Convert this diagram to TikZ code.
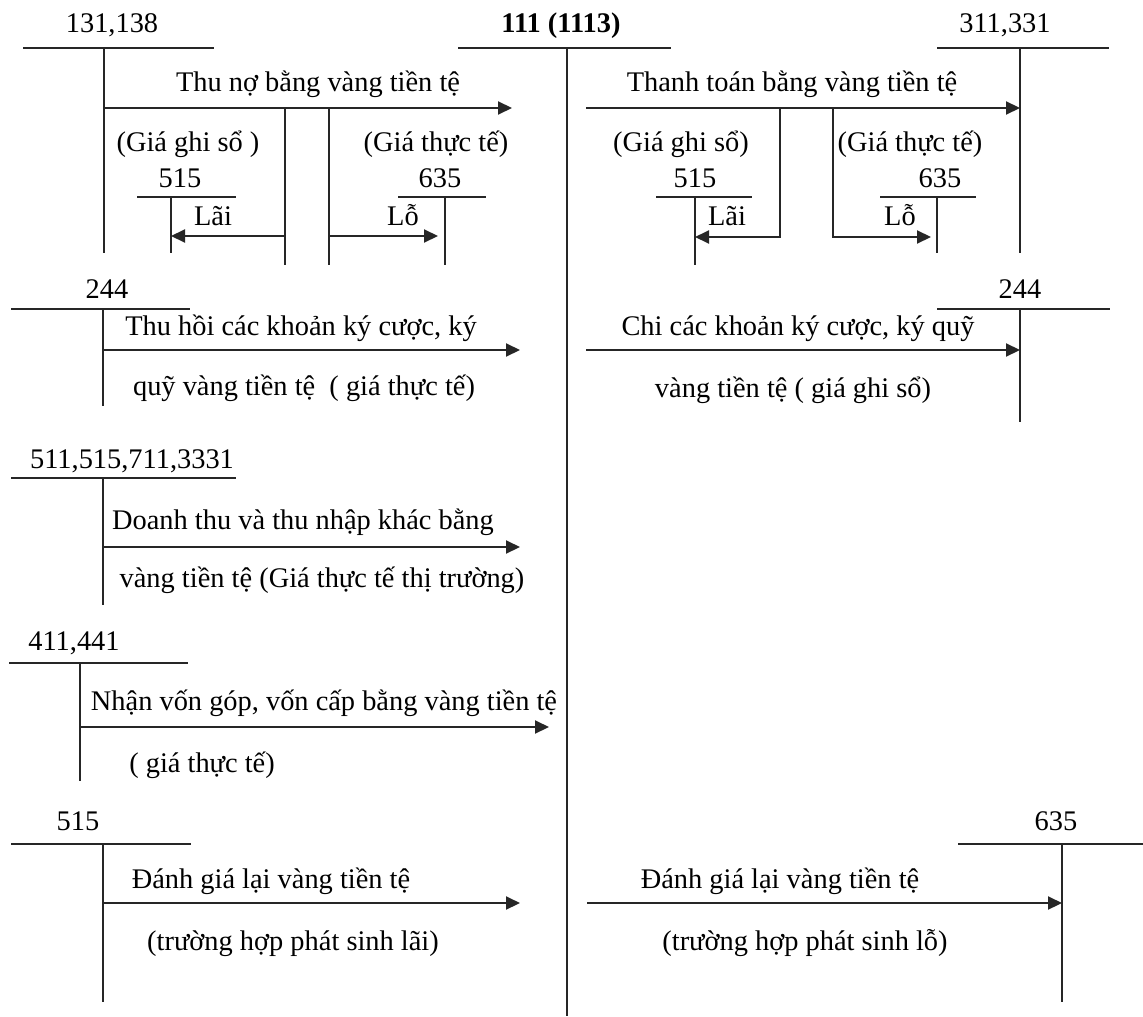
\documentclass[tikz,border=0pt]{standalone}
\usepackage{fontspec}
\setmainfont{Liberation Serif}
\usetikzlibrary{arrows.meta}
\begin{document}
\begin{tikzpicture}[x=0.5pt,y=-0.5pt,
  acct/.style={line width=1pt, draw=black!85},
  flow/.style={line width=1pt, draw=black!85, -{Triangle[length=7pt,width=6.5pt]}},
  lbl/.style={anchor=base, inner sep=0pt, font=\fontsize{14.2}{17}\selectfont}]
\fill[white] (0,0) rectangle (1143,1016);
\useasboundingbox (0,0) rectangle (1143,1016);

% ---- main account 111 ----
\node[lbl] (m) at (561,33) {\textbf{111 (1113)}};
\coordinate (mL) at (458,48); \coordinate (mR) at (671,48);
\coordinate (mT) at (567,48); \coordinate (mB) at (567,1016);
\draw[acct] (mL) -- (mR);
\draw[acct] (mT) -- (mB);

% ---- 131,138 ----
\node[lbl] (a1) at (112,33) {131,138};
\coordinate (a1L) at (23,48); \coordinate (a1R) at (214,48);
\coordinate (a1T) at (104,48); \coordinate (a1B) at (104,253);
\draw[acct] (a1L) -- (a1R);
\draw[acct] (a1T) -- (a1B);
\coordinate (f1s) at (104,108); \coordinate (f1e) at (512,108);
\draw[flow] (f1s) -- (f1e);
\node[lbl] (t1) at (318,92) {Thu nợ bằng vàng tiền tệ};
\coordinate (b1T) at (285,108); \coordinate (b1B) at (285,265);
\coordinate (b2T) at (329,108); \coordinate (b2B) at (329,265);
\draw[acct] (b1T) -- (b1B);
\draw[acct] (b2T) -- (b2B);
\node[lbl] (t1a) at (188,152) {(Giá ghi sổ )};
\node[lbl] (t1b) at (436,152) {(Giá thực tế)};
% 515 small
\node[lbl] (s1) at (180,188) {515};
\coordinate (s1L) at (137,197); \coordinate (s1R) at (236,197);
\coordinate (s1T) at (171,197); \coordinate (s1B) at (171,253);
\draw[acct] (s1L) -- (s1R);
\draw[acct] (s1T) -- (s1B);
\node[lbl] (l1) at (213,225) {Lãi};
\coordinate (g1s) at (285,236); \coordinate (g1e) at (171,236);
\draw[flow] (g1s) -- (g1e);
% 635 small
\node[lbl] (s2) at (440,188) {635};
\coordinate (s2L) at (398,197); \coordinate (s2R) at (486,197);
\coordinate (s2T) at (445,197); \coordinate (s2B) at (445,265);
\draw[acct] (s2L) -- (s2R);
\draw[acct] (s2T) -- (s2B);
\node[lbl] (l2) at (403,225) {Lỗ};
\coordinate (g2s) at (329,236); \coordinate (g2e) at (438,236);
\draw[flow] (g2s) -- (g2e);

% ---- 311,331 ----
\node[lbl] (a2) at (1005,33) {311,331};
\coordinate (a2L) at (937,48); \coordinate (a2R) at (1109,48);
\coordinate (a2T) at (1020,48); \coordinate (a2B) at (1020,253);
\draw[acct] (a2L) -- (a2R);
\draw[acct] (a2T) -- (a2B);
\coordinate (f2s) at (586,108); \coordinate (f2e) at (1020,108);
\draw[flow] (f2s) -- (f2e);
\node[lbl] (t2) at (792,92) {Thanh toán bằng vàng tiền tệ};
\node[lbl] (t2a) at (681,152) {(Giá ghi sổ)};
\node[lbl] (t2b) at (910,152) {(Giá thực tế)};
% 515 small right
\node[lbl] (s3) at (695,188) {515};
\coordinate (s3L) at (656,197); \coordinate (s3R) at (752,197);
\coordinate (s3T) at (695,197); \coordinate (s3B) at (695,265);
\draw[acct] (s3L) -- (s3R);
\draw[acct] (s3T) -- (s3B);
\node[lbl] (l3) at (727,225) {Lãi};
\coordinate (g3s) at (780,108); \coordinate (g3e) at (695,237);
\draw[flow] (g3s) |- (g3e);
% 635 small right
\node[lbl] (s4) at (940,188) {635};
\coordinate (s4L) at (880,197); \coordinate (s4R) at (976,197);
\coordinate (s4T) at (937,197); \coordinate (s4B) at (937,253);
\draw[acct] (s4L) -- (s4R);
\draw[acct] (s4T) -- (s4B);
\node[lbl] (l4) at (900,225) {Lỗ};
\coordinate (g4s) at (833,108); \coordinate (g4e) at (931,237);
\draw[flow] (g4s) |- (g4e);

% ---- 244 left ----
\node[lbl] (a3) at (107,298) {244};
\coordinate (a3L) at (11,309); \coordinate (a3R) at (190,309);
\coordinate (a3T) at (103,309); \coordinate (a3B) at (103,406);
\draw[acct] (a3L) -- (a3R);
\draw[acct] (a3T) -- (a3B);
\coordinate (f3s) at (103,350); \coordinate (f3e) at (520,350);
\draw[flow] (f3s) -- (f3e);
\node[lbl] (t3) at (301,335) {Thu hồi các khoản ký cược, ký};
\node[lbl] (t3b) at (304,395) {quỹ vàng tiền tệ \ ( giá thực tế)};

% ---- 244 right ----
\node[lbl] (a4) at (1020,298) {244};
\coordinate (a4L) at (937,309); \coordinate (a4R) at (1110,309);
\coordinate (a4T) at (1020,309); \coordinate (a4B) at (1020,422);
\draw[acct] (a4L) -- (a4R);
\draw[acct] (a4T) -- (a4B);
\coordinate (f4s) at (586,350); \coordinate (f4e) at (1020,350);
\draw[flow] (f4s) -- (f4e);
\node[lbl] (t4) at (798,335) {Chi các khoản ký cược, ký quỹ};
\node[lbl] (t4b) at (793,397) {vàng tiền tệ ( giá ghi sổ)};

% ---- 511,515,711,3331 ----
\node[lbl] (a5) at (132,468) {511,515,711,3331};
\coordinate (a5L) at (11,478); \coordinate (a5R) at (236,478);
\coordinate (a5T) at (103,478); \coordinate (a5B) at (103,605);
\draw[acct] (a5L) -- (a5R);
\draw[acct] (a5T) -- (a5B);
\coordinate (f5s) at (103,547); \coordinate (f5e) at (520,547);
\draw[flow] (f5s) -- (f5e);
\node[lbl] (t5) at (303,529) {Doanh thu và thu nhập khác bằng};
\node[lbl] (t5b) at (322,587) {vàng tiền tệ (Giá thực tế thị trường)};

% ---- 411,441 ----
\node[lbl] (a6) at (74,650) {411,441};
\coordinate (a6L) at (9,663); \coordinate (a6R) at (188,663);
\coordinate (a6T) at (80,663); \coordinate (a6B) at (80,781);
\draw[acct] (a6L) -- (a6R);
\draw[acct] (a6T) -- (a6B);
\coordinate (f6s) at (80,727); \coordinate (f6e) at (549,727);
\draw[flow] (f6s) -- (f6e);
\node[lbl] (t6) at (324,710) {Nhận vốn góp, vốn cấp bằng vàng tiền tệ};
\node[lbl] (t6b) at (202,772) {( giá thực tế)};

% ---- 515 bottom ----
\node[lbl] (a7) at (78,830) {515};
\coordinate (a7L) at (11,844); \coordinate (a7R) at (191,844);
\coordinate (a7T) at (103,844); \coordinate (a7B) at (103,1002);
\draw[acct] (a7L) -- (a7R);
\draw[acct] (a7T) -- (a7B);
\coordinate (f7s) at (103,903); \coordinate (f7e) at (520,903);
\draw[flow] (f7s) -- (f7e);
\node[lbl] (t7) at (271,888) {Đánh giá lại vàng tiền tệ};
\node[lbl] (t7b) at (293,950) {(trường hợp phát sinh lãi)};

% ---- 635 bottom ----
\node[lbl] (a8) at (1056,830) {635};
\coordinate (a8L) at (958,844); \coordinate (a8R) at (1143,844);
\coordinate (a8T) at (1062,844); \coordinate (a8B) at (1062,1002);
\draw[acct] (a8L) -- (a8R);
\draw[acct] (a8T) -- (a8B);
\coordinate (f8s) at (587,903); \coordinate (f8e) at (1062,903);
\draw[flow] (f8s) -- (f8e);
\node[lbl] (t8) at (780,888) {Đánh giá lại vàng tiền tệ};
\node[lbl] (t8b) at (805,950) {(trường hợp phát sinh lỗ)};
\end{tikzpicture}
\end{document}
